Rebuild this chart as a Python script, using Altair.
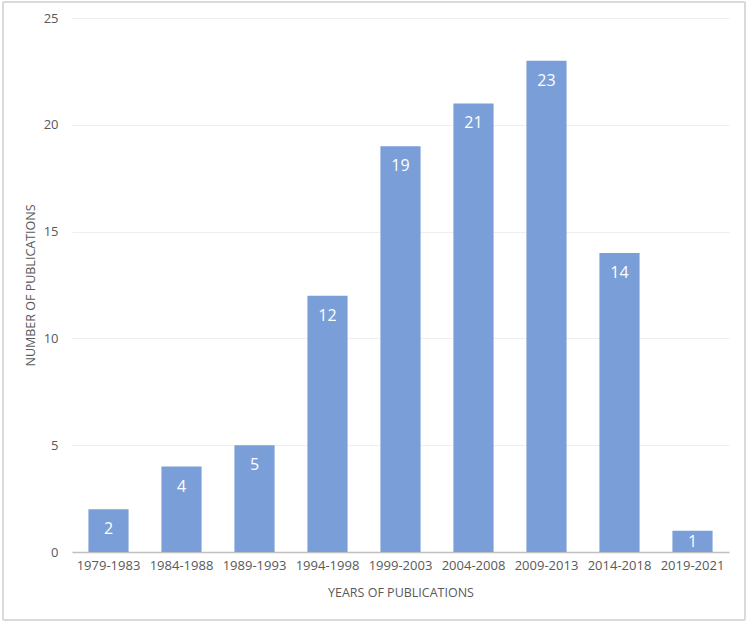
import altair as alt
import pandas as pd

periods = ["1979-1983", "1984-1988", "1989-1993", "1994-1998", "1999-2003",
           "2004-2008", "2009-2013", "2014-2018", "2019-2021"]
counts = [2, 4, 5, 12, 19, 21, 23, 14, 1]

df = pd.DataFrame({"period": periods, "count": counts})

FONT = "Open Sans"
GREY = "#595959"

x = alt.X("period:N", sort=periods, title="YEARS OF PUBLICATIONS",
          scale=alt.Scale(paddingInner=0.45, paddingOuter=0.225),
          axis=alt.Axis(labelAngle=0, ticks=False, domainColor="#BFBFBF",
                        domainWidth=1.5, labelPadding=7, titlePadding=14,
                        labelFontSize=13, titleFontSize=12.5, labelColor=GREY,
                        titleColor=GREY, labelFont=FONT, titleFont=FONT,
                        titleFontWeight="normal"))
y = alt.Y("count:Q", title="NUMBER OF PUBLICATIONS",
          scale=alt.Scale(domain=[0, 25], nice=False),
          axis=alt.Axis(values=[0, 5, 10, 15, 20, 25], ticks=False, domain=False,
                        gridColor="#EFEFEF", gridWidth=1, labelPadding=14,
                        titlePadding=6, labelFontSize=13, titleFontSize=12.5,
                        labelColor=GREY, titleColor=GREY, labelFont=FONT,
                        titleFont=FONT, titleFontWeight="normal"))

bars = alt.Chart(df).mark_bar(color="#7A9ED8").encode(x=x, y=y)
labels_tall = alt.Chart(df).transform_filter("datum.count > 1").mark_text(
    color="white", fontSize=16, font=FONT, baseline="middle", dy=20).encode(
    x=alt.X("period:N", sort=periods), y="count:Q", text="count:Q")
labels_short = alt.Chart(df).transform_filter("datum.count <= 1").mark_text(
    color="white", fontSize=16, font=FONT, baseline="middle", dy=11).encode(
    x=alt.X("period:N", sort=periods), y="count:Q", text="count:Q")

border = alt.Chart(df).mark_rect(fill=None, stroke="#D9D9D9", strokeWidth=1).encode(
    x=alt.value(-69), x2=alt.value(673), y=alt.value(-16), y2=alt.value(602))

chart = alt.layer(bars, labels_tall, labels_short, border).properties(
    width=657, height=534,
    autosize=alt.AutoSizeParams(type="none"),
    padding={"left": 72, "top": 18, "right": 21, "bottom": 72},
).configure_view(stroke=None)

chart.save("out.html", embed_options={"renderer": "svg", "actions": False})
